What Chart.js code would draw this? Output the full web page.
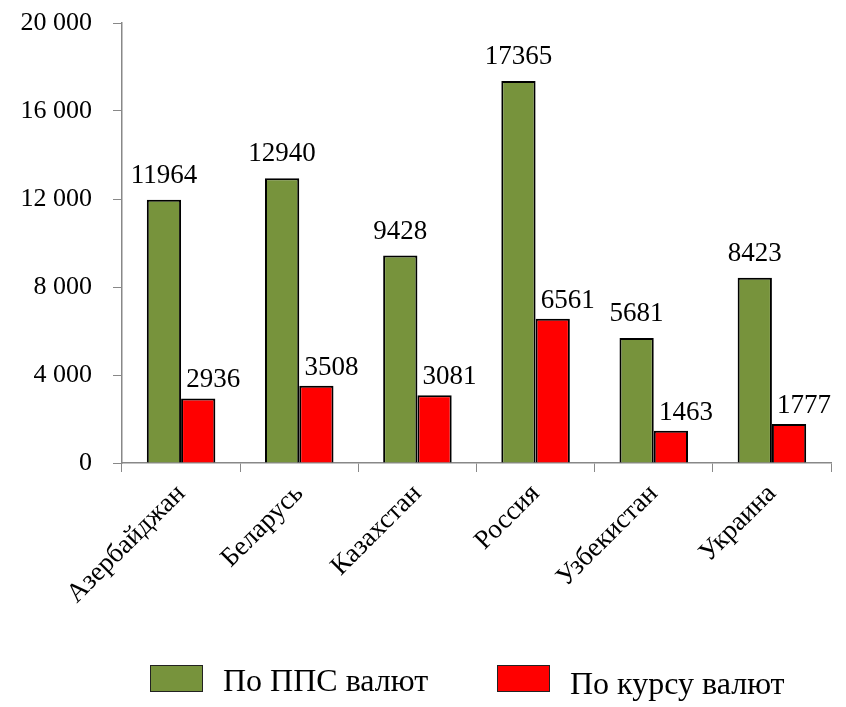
<!DOCTYPE html>
<html>
<head>
<meta charset="utf-8">
<script src="https://cdn.jsdelivr.net/npm/chart.js@4/dist/chart.umd.min.js"></script>
<style>
  html, body { margin: 0; padding: 0; background: #fff; font-family: 'Liberation Serif'; }
  #wrap { position: absolute; left: 0; top: 0; width: 846px; height: 640px; }
  #legend { position: absolute; left: 0; top: 0; width: 846px; height: 707px; pointer-events: none; }
  .box { position: absolute; top: 665px; width: 53px; height: 27px; box-sizing: border-box; border: 1px solid #222; }
  .txt { position: absolute; font: 32px/32px 'Liberation Serif'; color: #000; white-space: nowrap; }
</style>
</head>
<body>
<div id="wrap"><canvas id="chart"></canvas></div>
<div id="legend"></div>
<script>
const countries = ['Азербайджан', 'Беларусь', 'Казахстан', 'Россия', 'Узбекистан', 'Украина'];
const pppValues = [11964, 12940, 9428, 17365, 5681, 8423];
const rateValues = [2936, 3508, 3081, 6561, 1463, 1777];
const yTicks = [0, 4000, 8000, 12000, 16000, 20000];

Chart.defaults.font.family = "'Liberation Serif'";

// values above the bars; the red ones sit a bit to the right, as in the original
const barLabels = {
    id: 'barLabels',
    afterDatasetsDraw(chart) {
        const ctx = chart.ctx;
        ctx.save();
        ctx.font = "27px 'Liberation Serif'";
        ctx.fillStyle = '#000';
        ctx.textAlign = 'center';
        ctx.textBaseline = 'alphabetic';
        chart.data.datasets.forEach((ds, i) => {
            const meta = chart.getDatasetMeta(i);
            const dx = i === 0 ? 0 : 15;
            const gap = i === 0 ? 17 : 11;
            meta.data.forEach((bar, j) => {
                ctx.fillText(String(ds.data[j]), bar.x + dx, bar.y - gap);
            });
        });
        ctx.restore();
    }
};

let myChart = document.getElementById('chart').getContext('2d');

let barChart = new Chart(myChart, {
    type: 'bar',
    data: {
        labels: countries,
        datasets: [{
            label: 'По ППС валют',
            data: pppValues,
            backgroundColor: '#77933C',
            borderColor: '#000',
            borderWidth: 2,
            borderSkipped: 'bottom'
        }, {
            label: 'По курсу валют',
            data: rateValues,
            backgroundColor: '#FF0000',
            borderColor: '#000',
            borderWidth: 2,
            borderSkipped: 'bottom'
        }]
    },
    options: {
        responsive: true,
        maintainAspectRatio: false,
        animation: false,
        layout: { padding: { top: 23, right: 15, bottom: 0, left: 0 } },
        datasets: { bar: { categoryPercentage: 0.58, barPercentage: 1.0 } },
        scales: {
            x: {
                grid: { drawOnChartArea: false, color: '#888', tickLength: 9 },
                border: { color: '#888', width: 1.5 },
                ticks: { color: '#000', font: { size: 27 }, maxRotation: 45, minRotation: 45, padding: 6 },
                afterFit(s) { s.height = 177; }
            },
            y: {
                min: 0,
                max: 20000,
                afterBuildTicks(s) { s.ticks = yTicks.map(v => ({ value: v })); },
                grid: { drawOnChartArea: false, color: '#888', tickLength: 9 },
                border: { color: '#888', width: 1.5 },
                ticks: {
                    color: '#000',
                    font: { size: 26 },
                    padding: 21,
                    callback: v => v >= 1000 ? Math.floor(v / 1000) + ' ' + String(v % 1000).padStart(3, '0') : String(v)
                },
                afterFit(s) { s.width = 122; s.paddingTop = 0; s.paddingBottom = 0; }
            }
        },
        plugins: {
            tooltip: { enabled: false },
            legend: { display: false }
        }
    },
    plugins: [barLabels]
});

// legend as html, spaced like the original
const legendX = [150, 497];
const legendTextTop = [664, 667];
const legend = document.getElementById('legend');
barChart.data.datasets.forEach((ds, i) => {
    const box = document.createElement('div');
    box.className = 'box';
    box.style.left = legendX[i] + 'px';
    box.style.background = ds.backgroundColor;
    legend.appendChild(box);
    const txt = document.createElement('div');
    txt.className = 'txt';
    txt.style.left = (legendX[i] + 73) + 'px';
    txt.style.top = legendTextTop[i] + 'px';
    txt.textContent = ds.label;
    legend.appendChild(txt);
});

// draw again once the page text is laid out, so the canvas picks up the serif font
document.fonts.ready.then(() => requestAnimationFrame(() => barChart.update()));
setTimeout(() => barChart.update(), 200);
</script>
</body>
</html>
